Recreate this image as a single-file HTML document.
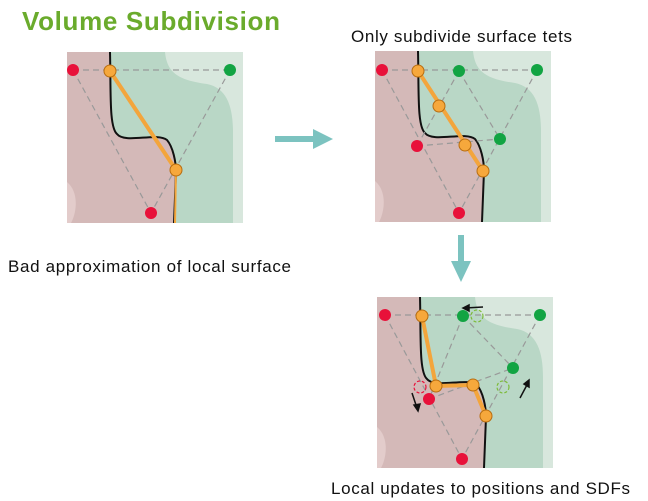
<!DOCTYPE html>
<html><head><meta charset="utf-8"><style>
html,body{margin:0;padding:0;background:#fff;width:648px;height:501px;overflow:hidden}
svg{display:block}
text{font-family:"Liberation Sans",sans-serif}
</style></head><body>
<svg width="648" height="501" viewBox="0 0 648 501">
<defs>
<g id="bg">
<rect x="0" y="0" width="176" height="171" fill="#d4b9b8"/>
<path d="M43,0 C44,40 42,75 50,82 C58,92 90,80 100,88 C106,95 109,110 109,120 L107,171 L176,171 L176,0 Z" fill="#b9d7c6"/>
<path d="M98,0 C100,20 110,28 140,32 C160,36 166,55 166,80 L166,171 L176,171 L176,0 Z" fill="#d8e7dd"/>
<path d="M0,130 C12,140 10,160 4,171 L0,171 Z" fill="#e3cccb"/>
<path d="M43,0 C44,40 42,75 50,82 C58,92 90,80 100,88 C106,95 109,110 109,120 L107,171" fill="none" stroke="#111" stroke-width="2"/>
</g>
</defs>

<text x="22" y="30" font-size="26" font-weight="bold" fill="#6aab2c" textLength="258">Volume Subdivision</text>

<g transform="translate(67,52)">
<use href="#bg"/>
<g stroke="#999" stroke-width="1.2" stroke-dasharray="6,4" fill="none">
<line x1="6" y1="18" x2="163" y2="18"/><line x1="6" y1="18" x2="84" y2="161"/><line x1="163" y1="18" x2="84" y2="161"/>
</g>
<line x1="43" y1="19" x2="109" y2="118" stroke="#f3a53c" stroke-width="4"/>
<path d="M109,118 L108,171" stroke="#f3a53c" stroke-width="2" fill="none"/>
<g stroke="#b86d10" stroke-width="1"><circle cx="43" cy="19" r="6" fill="#f6a83c"/><circle cx="109" cy="118" r="6" fill="#f6a83c"/></g>
<circle cx="6" cy="18" r="6" fill="#e8113a"/><circle cx="84" cy="161" r="6" fill="#e8113a"/><circle cx="163" cy="18" r="6" fill="#12a443"/>
</g>

<g transform="translate(375,51)">
<use href="#bg"/>
<g stroke="#999" stroke-width="1.2" stroke-dasharray="6,4" fill="none">
<line x1="7" y1="19" x2="162" y2="19"/><line x1="7" y1="19" x2="84" y2="162"/><line x1="162" y1="19" x2="84" y2="162"/>
<line x1="84" y1="20" x2="42" y2="95"/><line x1="84" y1="20" x2="125" y2="88"/><line x1="42" y1="95" x2="125" y2="88"/>
</g>
<line x1="43" y1="20" x2="108" y2="120" stroke="#f3a53c" stroke-width="4"/>
<g stroke="#b86d10" stroke-width="1" fill="#f6a83c"><circle cx="43" cy="20" r="6"/><circle cx="64" cy="55" r="6"/><circle cx="90" cy="94" r="6"/><circle cx="108" cy="120" r="6"/></g>
<circle cx="7" cy="19" r="6" fill="#e8113a"/><circle cx="42" cy="95" r="6" fill="#e8113a"/><circle cx="84" cy="162" r="6" fill="#e8113a"/>
<circle cx="84" cy="20" r="6" fill="#12a443"/><circle cx="162" cy="19" r="6" fill="#12a443"/><circle cx="125" cy="88" r="6" fill="#12a443"/>
</g>

<g transform="translate(377,297)">
<use href="#bg"/>
<g stroke="#999" stroke-width="1.2" stroke-dasharray="6,4" fill="none">
<line x1="8" y1="18" x2="163" y2="18"/><line x1="8" y1="18" x2="85" y2="162"/><line x1="163" y1="18" x2="85" y2="162"/>
<line x1="86" y1="19" x2="52" y2="102"/><line x1="86" y1="19" x2="136" y2="71"/><line x1="52" y1="102" x2="136" y2="71"/>
</g>
<path d="M45,19 L59,89 L96,88 L109,119" fill="none" stroke="#f3a53c" stroke-width="4"/>
<circle cx="43" cy="90" r="6" fill="none" stroke="#e8113a" stroke-width="1.2" stroke-dasharray="3,2"/>
<circle cx="100" cy="19" r="6" fill="none" stroke="#7dbb3a" stroke-width="1.2" stroke-dasharray="3,2"/>
<circle cx="126" cy="90" r="6" fill="none" stroke="#7dbb3a" stroke-width="1.2" stroke-dasharray="3,2"/>
<g stroke="#b86d10" stroke-width="1" fill="#f6a83c"><circle cx="45" cy="19" r="6"/><circle cx="59" cy="89" r="6"/><circle cx="96" cy="88" r="6"/><circle cx="109" cy="119" r="6"/></g>
<circle cx="8" cy="18" r="6" fill="#e8113a"/><circle cx="52" cy="102" r="6" fill="#e8113a"/><circle cx="85" cy="162" r="6" fill="#e8113a"/>
<circle cx="86" cy="19" r="6" fill="#12a443"/><circle cx="163" cy="18" r="6" fill="#12a443"/><circle cx="136" cy="71" r="6" fill="#12a443"/>
<g stroke="#111" stroke-width="1.5" fill="#111">
<line x1="106" y1="10" x2="88" y2="11"/><path d="M86,11 L92,8 L92,14 Z"/>
<line x1="35" y1="96" x2="40" y2="111"/><path d="M41,114 L37,108 L43,107 Z"/>
<line x1="143" y1="101" x2="151" y2="86"/><path d="M152,83 L152,90 L147,87 Z"/>
</g>
</g>

<g fill="#7cc3c0">
<rect x="275" y="136" width="40" height="6"/><path d="M313,129 L333,139 L313,149 Z"/>
</g>
<g fill="#7cc3c0">
<rect x="458" y="235" width="6" height="28"/><path d="M451,261 L461,282 L471,261 Z"/>
</g>

<text x="351" y="42" font-size="17" fill="#111" textLength="221">Only subdivide surface tets</text>
<text x="8" y="272" font-size="17" fill="#111" textLength="283">Bad approximation of local surface</text>
<text x="331" y="494" font-size="17" fill="#111" textLength="299">Local updates to positions and SDFs</text>
</svg>
</body></html>
